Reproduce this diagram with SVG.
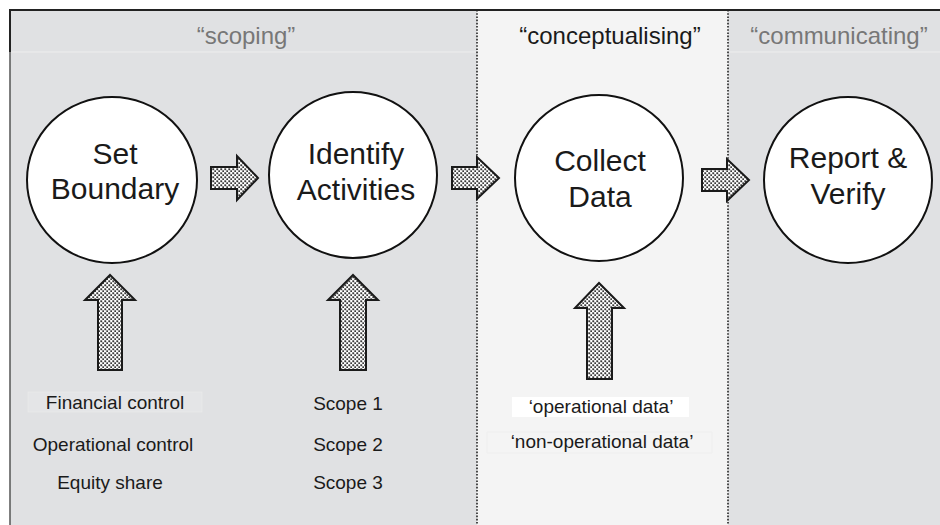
<svg xmlns="http://www.w3.org/2000/svg" width="940" height="525" viewBox="0 0 940 525">
<defs>
<pattern id="dots" width="4" height="4" patternUnits="userSpaceOnUse">
<rect width="4" height="4" fill="#ffffff"/>
<rect x="0.3" y="0.3" width="1.9" height="1.9" fill="#3a3a3a"/>
<rect x="2.3" y="2.3" width="1.9" height="1.9" fill="#3a3a3a"/>
</pattern>
<style>
.zone{fill:#e0e1e3}
.zone2{fill:#f4f4f4}
.div{stroke:#222;stroke-width:1.6;stroke-dasharray:1.6 1.6;fill:none}
.head{font-family:"Liberation Sans",Arial,sans-serif;font-size:24px;text-anchor:middle}
.circ{fill:#ffffff;stroke:#111;stroke-width:2}
.ctxt{font-family:"Liberation Sans",Arial,sans-serif;font-size:30px;text-anchor:middle;fill:#1a1a1a}
.lbl{font-family:"Liberation Sans",Arial,sans-serif;font-size:19px;text-anchor:middle;fill:#1a1a1a}
.arr{fill:url(#dots);stroke:#1a1a1a;stroke-width:2;stroke-linejoin:miter}
</style>
</defs>
<rect width="940" height="525" fill="#ffffff"/>
<g id="zones">
<rect class="zone" x="10" y="10" width="467" height="515"/>
<rect class="zone2" x="477" y="10" width="251" height="515"/>
<rect class="zone" x="728" y="10" width="212" height="515"/>
<line x1="10" y1="52" x2="477" y2="52" stroke="#eeeeee" stroke-width="1"/>
<line x1="728" y1="52" x2="940" y2="52" stroke="#eeeeee" stroke-width="1"/>
<line class="div" x1="477" y1="10" x2="477" y2="525"/>
<line class="div" x1="728" y1="10" x2="728" y2="525"/>
<line x1="9" y1="10" x2="940" y2="10" stroke="#222" stroke-width="2"/>
<line x1="10" y1="10" x2="10" y2="525" stroke="#555" stroke-width="1.5"/>
<line x1="10" y1="10" x2="10" y2="52" stroke="#222" stroke-width="2"/>
</g>
<g id="headers">
<text class="head" x="246" y="44" fill="#777777">“scoping”</text>
<text class="head" x="610" y="44" fill="#1a1a1a">“conceptualising”</text>
<text class="head" x="839" y="44" fill="#777777">“communicating”</text>
</g>
<g id="connectors">
<path class="arr" d="M211,167 H237 V156 L258,178 L237,200 V189 H211 Z"/>
<path class="arr" d="M452,167 H477 V157 L499,178 L477,199 V189 H452 Z"/>
<path class="arr" d="M702,169 H727 V159 L749,180 L727,201 V191 H702 Z"/>
<path class="arr" d="M98,370 V300 H85 L110,275 L135,300 H122 V370 Z"/>
<path class="arr" d="M340,370 V300 H328 L353,275 L378,300 H366 V370 Z"/>
<path class="arr" d="M587,379 V308 H575 L599,283 L624,308 H612 V379 Z"/>
</g>
<g id="set-boundary">
<ellipse class="circ" cx="112" cy="180" rx="85" ry="83"/>
<text class="ctxt" x="115" y="164">Set</text>
<text class="ctxt" x="115" y="199">Boundary</text>
</g>
<g id="identify-activities">
<ellipse class="circ" cx="353" cy="175" rx="84" ry="83"/>
<text class="ctxt" x="356" y="164">Identify</text>
<text class="ctxt" x="356" y="200">Activities</text>
</g>
<g id="collect-data">
<ellipse class="circ" cx="599" cy="178" rx="84" ry="83"/>
<text class="ctxt" x="600" y="171">Collect</text>
<text class="ctxt" x="600" y="207">Data</text>
</g>
<g id="report-verify">
<ellipse class="circ" cx="848" cy="180" rx="84" ry="83"/>
<text class="ctxt" x="848" y="168">Report &amp;</text>
<text class="ctxt" x="848" y="204">Verify</text>
</g>
<g id="boundary-options">
<rect x="28" y="392" width="174" height="20" fill="#e4e5e7" stroke="#ececec" stroke-width="0.6"/>
<text class="lbl" x="115" y="409">Financial control</text>
<text class="lbl" x="113" y="451">Operational control</text>
<text class="lbl" x="110" y="489">Equity share</text>
</g>
<g id="scopes">
<text class="lbl" x="348" y="410">Scope 1</text>
<text class="lbl" x="348" y="451">Scope 2</text>
<text class="lbl" x="348" y="489">Scope 3</text>
</g>
<g id="data-types">
<rect x="512" y="397" width="177" height="20" fill="#ffffff"/>
<rect x="487" y="432" width="225" height="21" fill="#f4f4f4" stroke="#ebebeb" stroke-width="0.6"/>
<text class="lbl" x="601" y="413">‘operational data’</text>
<text class="lbl" x="602" y="448">‘non-operational data’</text>
</g>
</svg>
